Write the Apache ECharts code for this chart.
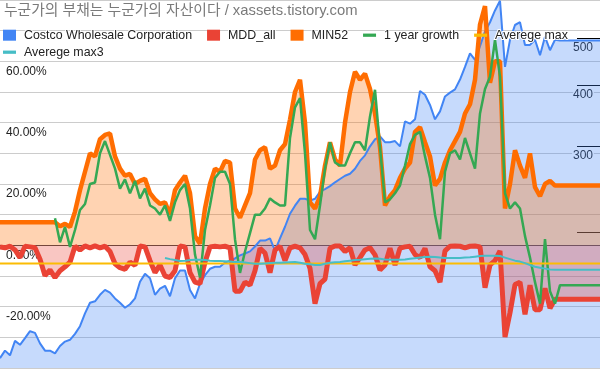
<!DOCTYPE html>
<html><head><meta charset="utf-8">
<script src="https://cdn.jsdelivr.net/npm/echarts@6/dist/echarts.min.js"></script>
<style>html,body{margin:0;padding:0;background:#fff}#c{width:600px;height:371px}</style>
</head><body><div id="c"></div>
<script>
const titleText = '누군가의 부채는 누군가의 자산이다 / xassets.tistory.com';
const seriesNames = ['Costco Wholesale Corporation', 'MDD_all', 'MIN52', '1 year growth', 'Averege max', 'Averege max3'];
const pctLabelTicks = [-20, 0, 20, 40, 60];
const priceTicks = [200, 300, 400, 500];
const priceLabelTicks = [300, 400, 500];

// Costco price (right, log axis)
const price = [110,114,111.5,119.4,117.2,121,125,124,118,114,114,112.5,116.5,119,120,123.4,128,136,143,144,
148.5,152,150,146,143,139.7,142,146,158,164,160.6,148.5,153,155,147.5,160.6,166.6,166.6,152,146,
156.5,163,168,169.6,169.6,173,174.6,176.4,179,180.6,182.4,186.7,192,192,194,183,194,205,218,226.5,
234,234,232,234,242,245,248.5,253,257,261,263.5,269.7,280,287.5,300,310,314.5,306,306,307.6,
300,337.7,334,341,390,383,365,341,354,380,387,393,411.6,437,466,452,482,517,540,571,
598,437,497,533,540,485,485,497,462,504,473,497,495,495,495,495,495,495,495,495,495];

// MDD_all (%)
const mddAll = [-0.5,-0.8,-0.3,-1.5,-4,-0.3,-0.5,-0.8,-4.5,-9.9,-8,-10.5,-8.3,-7,-5.5,-0.3,-1.5,-0.2,-0.8,-0.2,
-0.8,-0.3,-2,-6,-7.3,-7.8,-5.5,-6.5,-0.2,-0.5,-5,-8.9,-6.4,-10,-10.5,-8.3,-0.2,-0.5,-8.9,-12,
-12.5,-5.5,-0.5,-0.3,-0.5,-0.3,-0.8,-15,-15,-12,-13,-8.3,-1,-2.5,-8.9,-1.5,-0.3,-5,-0.8,-0.3,
-0.8,-3,-7.5,-19,-12.5,-11,-0.9,-0.2,-0.2,-2,-0.8,-6.4,-4,-1.5,-0.8,-3.1,-8,-6.4,-0.9,-6.4,
-0.9,-0.5,-0.3,-3,-4,-1,-7,-8.3,-12,-1.8,-0.3,-0.2,-0.3,-0.8,-0.3,-0.2,-0.5,-13.8,-6.4,-5,
-1.8,-29.9,-22,-12.8,-12,-22.5,-13,-21,-21,-14,-20.5,-17.6,-17.6,-17.6,-17.6,-17.6,-17.6,-17.6,-17.6,-17.6,-17.6];

// MIN52 (%)
const min52 = [7.5,7.5,7.5,7.5,7.5,7.5,7.5,7.5,7.5,7.5,7.5,7.5,6.2,7,6,11,18,24,30,29,
34.6,36,36.5,29,25,22.7,23.3,20,21,21.7,17,15,13.5,14,10,18,20.5,22.7,17,3,
0.5,12,20,25,24,27.5,27,12,9,13,17,28,31,32,25,26,31,33,41,50,
54,40,14,12,16,26,33.6,28,26,40,50,56.6,54,56,51,43,32,13,16,18,
22,25,27,37,38.5,33.6,29,19.5,21.7,27,31,34,37,43,46,54,72,78,53,60,
60,12,20,31,26,22,30,19,16,20,21,19.5,19.5,19.5,19.5,19.5,19.5,19.5,19.5,19.5,19.5];

// 1 year growth (%)
const growth1y = [null,null,null,null,null,null,null,null,null,null,null,8.8,1,6,-0.5,5,11.5,13.5,20,20.5,
30,34,29.5,25,18.5,21.5,17,21,15.3,18.5,13,12,10,13,8,14,18,20,12,-3,
-10.5,5,13,22,24,24,20,2,-9,-2,4,10,10,12,15.3,14,13,13,35,45,
48,30,5,2,13,25,33.6,27,26,26,30,33.6,33.6,31,42,50.7,32,14,15,17,
19.5,26,33,36,37,29,22,10,2,24,30,31,28,35,30,25,43,51,55,67,
55,17,12,14,12,3,-4,-12,-19,2,-15,-19,-13,-13,-13,-13,-13,-13,-13,-13,-13];

// Averege max (%)
const avgMax = [-5.9,-5.9,-5.9,-5.9,-5.9,-5.9,-5.9,-5.9,-5.9,-5.9,-5.9,-5.9,-5.9,-5.9,-5.9,-5.9,-5.9,-5.9,-5.9,-5.9,
-5.9,-5.9,-5.9,-5.9,-5.9,-5.9,-5.9,-5.9,-5.9,-5.9,-5.9,-5.9,-5.9,-5.9,-5.9,-5.9,-5.9,-5.9,-5.9,-5.9,
-5.9,-5.9,-5.9,-5.9,-5.9,-5.9,-5.9,-5.9,-5.9,-5.9,-5.9,-5.9,-5.9,-5.9,-5.9,-5.9,-5.9,-5.9,-5.9,-5.9,
-5.9,-5.9,-5.9,-5.9,-5.9,-5.9,-5.9,-5.9,-5.9,-5.9,-5.9,-5.9,-5.9,-5.9,-5.9,-5.9,-5.9,-5.9,-5.9,-5.9,
-5.9,-5.9,-5.9,-5.9,-5.9,-5.9,-5.9,-5.9,-5.9,-5.9,-5.9,-5.9,-5.9,-5.9,-5.9,-5.9,-5.9,-5.9,-5.9,-5.9,
-5.9,-5.9,-5.9,-5.9,-5.9,-5.9,-5.9,-5.9,-5.9,-5.9,-5.9,-5.9,-5.9,-5.9,-5.9,-5.9,-5.9,-5.9,-5.9,-5.9,-5.9];

// Averege max3 (%)
const avgMax3 = [null,null,null,null,null,null,null,null,null,null,null,null,null,null,null,null,null,null,null,null,
null,null,null,null,null,null,null,null,null,null,null,null,null,-4.1,-4.5,-4.8,-5.1,-5,-4.8,-4.7,
-4.7,-4.8,-5,-5.1,-5.1,-5.2,-5.3,-5.4,-5.4,-5.6,-5.8,-6,-6,-5.9,-5.8,-5.7,-5.7,-5.6,-5.5,-5.4,
-5.7,-6,-6.2,-6.4,-6.4,-6,-5.7,-5.5,-5.4,-5.2,-5,-4.8,-4.7,-4.5,-4.4,-4.3,-4.4,-4.6,-4.7,-4.7,
-4.7,-4.6,-4.4,-4.2,-4,-3.8,-3.7,-3.8,-4,-4.1,-4.1,-4.1,-4.1,-4,-3.9,-3.7,-3.5,-3.4,-3.4,-3.4,
-3.5,-4,-4.5,-5,-5.3,-5.8,-6.4,-7,-7.3,-7.6,-7.9,-8,-8,-8,-8,-8,-8,-8,-8,-8,-8];

const categories = price.map((_, i) => 'p' + i);

const C = { blue: '#4285f4', red: '#ea4335', orange: '#ff6d01', green: '#34a853', yellow: '#fbbc04', teal: '#46bdc6' };
const FONT = "Arial, 'Liberation Sans', 'Noto Sans CJK KR', sans-serif";
const lineIcon = 'path://M0,0H12V3H0Z';

const chart = echarts.init(document.getElementById('c'), null, { renderer: 'canvas' });
chart.setOption({
  animation: false,
  backgroundColor: '#fff',
  textStyle: { fontFamily: FONT },
  title: {
    text: titleText, left: 4, top: 4, padding: 0,
    textStyle: { fontSize: 14.8, fontWeight: 'normal', color: '#7a7a7a', fontFamily: FONT }
  },
  legend: [{
    left: 3, top: 28, padding: 0, itemWidth: 13, itemHeight: 11, itemGap: 14,
    itemStyle: { borderWidth: 0 },
    textStyle: { fontSize: 12.4, color: '#222', fontFamily: FONT, padding: [0, 0, 0, 3], textBorderColor: '#fff', textBorderWidth: 2 },
    data: [
      { name: seriesNames[0], icon: 'rect' },
      { name: seriesNames[1], icon: 'rect' },
      { name: seriesNames[2], icon: 'rect' },
      { name: seriesNames[3], icon: lineIcon },
      { name: seriesNames[4], icon: lineIcon }
    ]
  }, {
    left: 3, top: 46, padding: 0, itemWidth: 13, itemHeight: 11, itemGap: 14,
    itemStyle: { borderWidth: 0 },
    textStyle: { fontSize: 12.4, color: '#222', fontFamily: FONT, padding: [0, 0, 0, 3] },
    data: [{ name: seriesNames[5], icon: lineIcon }]
  }],
  grid: { left: 0, right: 0, top: 0, bottom: 0, containLabel: false },
  xAxis: {
    type: 'category', data: categories, boundaryGap: false,
    axisLabel: { show: false }, axisTick: { show: false },
    axisLine: { show: true, onZero: true, onZeroAxisIndex: 0, lineStyle: { color: '#444', width: 1 } },
    splitLine: { show: false }
  },
  yAxis: [{
    type: 'value', min: -40, max: 80, interval: 10,
    axisLine: { show: false }, axisTick: { show: false },
    splitLine: { show: true, lineStyle: { color: '#cccccc', width: 1 } },
    axisLabel: {
      inside: true, margin: 6, verticalAlign: 'top', lineHeight: 14, padding: [3, 0, 0, 0],
      fontSize: 12, color: '#222', fontFamily: FONT, textBorderColor: '#fff', textBorderWidth: 3,
      formatter: v => pctLabelTicks.includes(Math.round(v)) ? v.toFixed(2) + '%' : ''
    }
  }, {
    type: 'log', min: 105, max: 600, position: 'right',
    axisLine: { show: false },
    splitLine: { show: false },
    axisTick: { show: true, inside: true, length: 23, customValues: priceTicks, lineStyle: { color: '#000', width: 1 } },
    axisLabel: {
      inside: true, margin: 7, verticalAlign: 'top', lineHeight: 14, padding: [2, 0, 0, 0],
      customValues: priceLabelTicks,
      fontSize: 12, color: '#222', fontFamily: FONT, textBorderColor: '#fff', textBorderWidth: 3,
      formatter: v => String(Math.round(v))
    }
  }],
  series: [
    { name: seriesNames[0], type: 'line', yAxisIndex: 1, data: price, showSymbol: false, symbol: 'none',
      lineStyle: { width: 2, color: C.blue }, itemStyle: { color: C.blue },
      areaStyle: { color: C.blue, opacity: 0.3 } },
    { name: seriesNames[1], type: 'line', yAxisIndex: 0, data: mddAll, showSymbol: false, symbol: 'none',
      lineStyle: { width: 5, color: C.red }, itemStyle: { color: C.red },
      areaStyle: { color: C.red, opacity: 0.3 } },
    { name: seriesNames[2], type: 'line', yAxisIndex: 0, data: min52, showSymbol: false, symbol: 'none',
      lineStyle: { width: 4.5, color: C.orange }, itemStyle: { color: C.orange },
      areaStyle: { color: C.orange, opacity: 0.3 } },
    { name: seriesNames[3], type: 'line', yAxisIndex: 0, data: growth1y, showSymbol: false, symbol: 'none',
      lineStyle: { width: 2.5, color: C.green }, itemStyle: { color: C.green } },
    { name: seriesNames[4], type: 'line', yAxisIndex: 0, data: avgMax, showSymbol: false, symbol: 'none',
      lineStyle: { width: 2, color: C.yellow }, itemStyle: { color: C.yellow } },
    { name: seriesNames[5], type: 'line', yAxisIndex: 0, data: avgMax3, showSymbol: false, symbol: 'none',
      lineStyle: { width: 2, color: C.teal }, itemStyle: { color: C.teal } }
  ]
});
</script>
</body></html>
